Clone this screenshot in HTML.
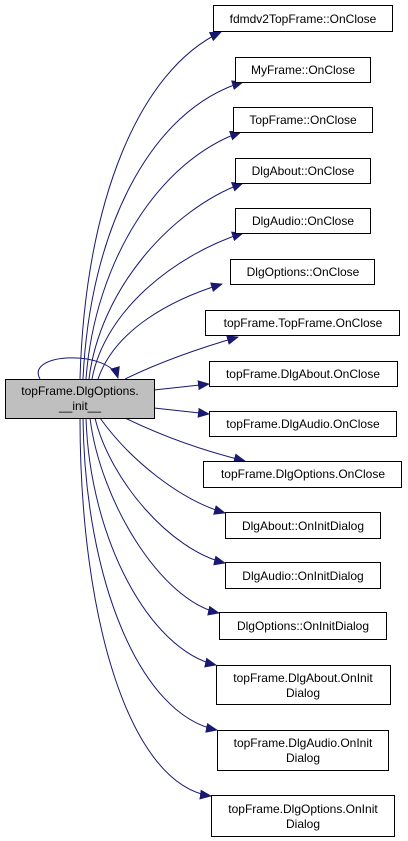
<html><head><style>body{margin:0;background:#fff}text{font-family:"Liberation Sans",Arial,sans-serif;font-size:12px;fill:#000}</style></head><body>
<svg width="408" height="841" viewBox="0 0 408 841" xmlns="http://www.w3.org/2000/svg">
<defs><marker id="a" markerWidth="12" markerHeight="10" refX="11" refY="5" orient="auto" markerUnits="userSpaceOnUse"><path d="M0,0L12,5L0,10z" fill="#191970"/></marker></defs>
<g fill="none" stroke="#191970" stroke-width="1" marker-end="url(#a)">
<path d="M80,379 C85,200 140,70 221,32"/>
<path d="M83,379 C90,230 150,110 243,82"/>
<path d="M86,379 C95,260 160,160 241,132"/>
<path d="M89,379 C100,290 170,210 243,183"/>
<path d="M92,379 C105,310 175,255 243,233"/>
<path d="M98,379 C115,330 170,300 222,284"/>
<path d="M125,379 C160,362 200,348 238,337"/>
<path d="M154,390 L209,384"/>
<path d="M154,408 L209,414"/>
<path d="M125,418 C160,435 200,450 245,461"/>
<path d="M100,418 C130,460 180,500 225,513"/>
<path d="M95,418 C110,480 170,550 225,563"/>
<path d="M90,418 C100,500 160,600 219,613"/>
<path d="M86,418 C90,540 150,650 216,665"/>
<path d="M83,418 C85,580 140,715 217,730"/>
<path d="M80,418 C80,620 130,785 211,796"/>
<path d="M40,379 C25,352 110,350 118,378"/>
</g>
<g stroke="#000" stroke-width="1" fill="#fff">
<rect x="5.5" y="379.5" width="149" height="39" fill="#bfbfbf"/>
<rect x="213.5" y="5.5" width="179" height="26"/>
<rect x="235.5" y="57.5" width="135" height="25"/>
<rect x="233.5" y="107.5" width="139" height="25"/>
<rect x="235.5" y="158.5" width="135" height="25"/>
<rect x="235.5" y="208.5" width="135" height="25"/>
<rect x="230.5" y="259.5" width="144" height="25"/>
<rect x="205.5" y="310.5" width="194" height="25"/>
<rect x="209.5" y="361.5" width="188" height="25"/>
<rect x="209.5" y="411.5" width="187" height="25"/>
<rect x="203.5" y="461.5" width="198" height="26"/>
<rect x="225.5" y="512.5" width="155" height="26"/>
<rect x="225.5" y="562.5" width="155" height="26"/>
<rect x="219.5" y="612.5" width="167" height="27"/>
<rect x="216.5" y="665.5" width="174" height="39"/>
<rect x="217.5" y="730.5" width="171" height="40"/>
<rect x="211.5" y="795.5" width="183" height="41"/>
</g>
<g text-anchor="middle">
<text x="80" y="395">topFrame.DlgOptions.</text><text x="80" y="410">__init__</text>
<text x="303" y="23">fdmdv2TopFrame::OnClose</text>
<text x="303" y="74">MyFrame::OnClose</text>
<text x="303" y="124">TopFrame::OnClose</text>
<text x="303" y="175">DlgAbout::OnClose</text>
<text x="303" y="225">DlgAudio::OnClose</text>
<text x="303" y="276">DlgOptions::OnClose</text>
<text x="303" y="327">topFrame.TopFrame.OnClose</text>
<text x="303" y="378">topFrame.DlgAbout.OnClose</text>
<text x="303" y="428">topFrame.DlgAudio.OnClose</text>
<text x="303" y="478">topFrame.DlgOptions.OnClose</text>
<text x="303" y="530">DlgAbout::OnInitDialog</text>
<text x="303" y="580">DlgAudio::OnInitDialog</text>
<text x="303" y="630">DlgOptions::OnInitDialog</text>
<text x="303" y="682">topFrame.DlgAbout.OnInit</text><text x="303" y="697">Dialog</text>
<text x="303" y="747">topFrame.DlgAudio.OnInit</text><text x="303" y="762">Dialog</text>
<text x="303" y="813">topFrame.DlgOptions.OnInit</text><text x="303" y="828">Dialog</text>
</g>
</svg>
</body></html>
